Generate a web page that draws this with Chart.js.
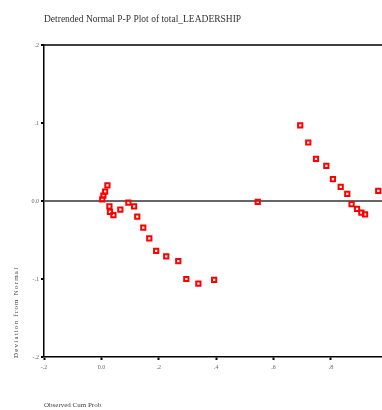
<!DOCTYPE html>
<html>
<head>
<meta charset="utf-8">
<script src="https://cdn.jsdelivr.net/npm/chart.js@4/dist/chart.umd.min.js"></script>
<style>
  html, body { margin: 0; padding: 0; background: #fff; }
  canvas { display: block; }
</style>
</head>
<body>
<canvas id="ppChart" width="382" height="410"></canvas>
<script>
// Data
const observedCumProb = [
  0.003, 0.007, 0.013, 0.021, 0.028, 0.030, 0.042, 0.066, 0.094, 0.114,
  0.125, 0.146, 0.167, 0.191, 0.226, 0.268, 0.296, 0.338, 0.393, 0.545,
  0.693, 0.721, 0.748, 0.784, 0.807, 0.834, 0.857, 0.872, 0.891, 0.906,
  0.919, 0.965
];
const deviation = [
  0.002, 0.007, 0.012, 0.020, -0.007, -0.014, -0.018, -0.011, -0.002, -0.007,
  -0.020, -0.034, -0.048, -0.064, -0.071, -0.077, -0.100, -0.106, -0.101, -0.001,
  0.097, 0.075, 0.054, 0.045, 0.028, 0.018, 0.009, -0.004, -0.010, -0.015,
  -0.017, 0.013
];
const xTicks = [-0.2, 0, 0.2, 0.4, 0.6, 0.8];
const yTicks = [-0.2, -0.1, 0, 0.1, 0.2];

const chartTitle = 'Detrended Normal P-P Plot of total_LEADERSHIP';
const xTitle = 'Observed Cum Prob';
const yTitle = 'Deviation from Normal';

// SPSS style labels: ".2", "-.1", "0.0"
function fmt(v) {
  if (Math.abs(v) < 1e-9) return '0.0';
  return v.toFixed(1).replace('0.', '.');
}

const serif = '"Liberation Serif", "DejaVu Serif", serif';

// Title, axis titles and the top frame line
const textPlugin = {
  id: 'textPlugin',
  afterDraw(chart) {
    const c = chart.ctx;
    const area = chart.chartArea;
    c.save();
    c.strokeStyle = '#000';
    c.lineWidth = 1.5;
    c.beginPath();
    c.moveTo(area.left, area.top);
    c.lineTo(area.right, area.top);
    c.stroke();

    c.fillStyle = '#333';
    c.textBaseline = 'middle';
    c.textAlign = 'left';
    c.font = '9.5px ' + serif;
    c.fillText(chartTitle, 44, 19);

    c.font = '7px ' + serif;
    c.fillStyle = '#444';
    c.fillText(xTitle, 44, 405);

    c.translate(16, 358);
    c.rotate(-Math.PI / 2);
    c.letterSpacing = '1.2px';
    c.fillText(yTitle, 0, 0);
    c.restore();
  }
};

const ctx = document.getElementById('ppChart').getContext('2d');

new Chart(ctx, {
  type: 'scatter',
  data: {
    datasets: [{
      label: 'Detrended',
      data: observedCumProb.map((x, i) => ({ x: x, y: deviation[i] })),
      pointStyle: 'rect',
      pointRadius: 3,
      pointHoverRadius: 3,
      borderWidth: 2,
      borderColor: '#ff0000',
      backgroundColor: 'rgba(255,255,255,0)'
    }]
  },
  options: {
    responsive: false,
    animation: false,
    devicePixelRatio: 1,
    layout: { autoPadding: false, padding: { top: 45, right: 0, left: 0, bottom: 0 } },
    plugins: {
      legend: { display: false },
      title: { display: false },
      tooltip: { enabled: false }
    },
    scales: {
      x: {
        type: 'linear',
        min: -0.2,
        max: 0.978,
        afterBuildTicks: (scale) => { scale.ticks = xTicks.map(v => ({ value: v })); },
        afterFit: (scale) => {
          scale.height = 53;
          scale.paddingLeft = 0;
          scale.paddingRight = 0;
        },
        border: { display: true, color: '#000', width: 1.5 },
        grid: {
          drawOnChartArea: false,
          tickColor: '#000',
          tickLength: 3,
          tickWidth: 2
        },
        ticks: {
          callback: (v) => fmt(v),
          color: '#666',
          font: { family: serif, size: 6 },
          padding: 4,
          maxRotation: 0
        }
      },
      y: {
        type: 'linear',
        min: -0.2,
        max: 0.2,
        afterBuildTicks: (scale) => { scale.ticks = yTicks.map(v => ({ value: v })); },
        afterFit: (scale) => {
          scale.width = 44;
          scale.paddingTop = 0;
          scale.paddingBottom = 0;
        },
        border: { display: true, color: '#000', width: 1.5 },
        grid: {
          drawOnChartArea: true,
          color: (c) => (c.tick && c.tick.value === 0 ? '#666' : 'rgba(0,0,0,0)'),
          lineWidth: (c) => (c.tick && c.tick.value === 0 ? 2 : 0),
          tickColor: '#000',
          tickLength: 3,
          tickWidth: 2
        },
        ticks: {
          callback: (v) => fmt(v),
          color: '#666',
          font: { family: serif, size: 6 },
          padding: 2
        }
      }
    }
  },
  plugins: [textPlugin]
});
</script>
</body>
</html>
